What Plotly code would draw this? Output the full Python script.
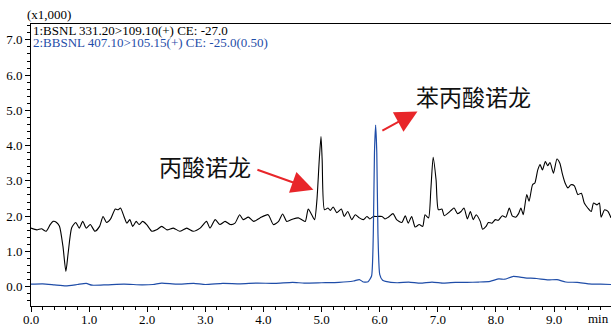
import plotly.graph_objects as go

# ---- data ----
black_t = [0.00, 0.10, 0.18, 0.26, 0.33, 0.38, 0.44, 0.49, 0.55, 0.60, 0.64, 0.70, 0.77, 0.83, 0.89, 0.95,
           1.02, 1.10, 1.18, 1.24, 1.30, 1.37, 1.45, 1.50, 1.54, 1.60, 1.65, 1.70, 1.75, 1.81, 1.86, 1.92, 1.99,
           2.08, 2.16, 2.25, 2.34, 2.45, 2.56, 2.68, 2.79, 2.91, 3.02, 3.08, 3.17, 3.25, 3.34, 3.43, 3.51,
           3.59, 3.65, 3.74, 3.83, 3.94, 4.08, 4.17, 4.26, 4.33, 4.40, 4.51, 4.60, 4.66, 4.72, 4.77, 4.83,
           4.88, 4.92, 4.96, 4.99, 5.01, 5.05, 5.11, 5.15, 5.20, 5.26, 5.34, 5.39, 5.45, 5.52, 5.58, 5.65,
           5.72, 5.78, 5.83, 5.89, 5.95, 6.04, 6.09, 6.15, 6.23, 6.29, 6.38, 6.44, 6.49, 6.55, 6.61, 6.68,
           6.74, 6.78, 6.84, 6.88, 6.92, 6.97, 7.01, 7.07, 7.11, 7.18, 7.24, 7.28, 7.34, 7.40, 7.45, 7.51,
           7.56, 7.61, 7.66, 7.73, 7.77, 7.83, 7.87, 7.93, 7.99, 8.04, 8.11, 8.17, 8.23, 8.28, 8.34, 8.39,
           8.43, 8.47, 8.53, 8.57, 8.63, 8.67, 8.72, 8.76, 8.80, 8.85, 8.89, 8.93, 8.99, 9.05, 9.10, 9.14,
           9.19, 9.24, 9.29, 9.35, 9.41, 9.47, 9.52, 9.58, 9.64, 9.68, 9.74, 9.78, 9.81, 9.87, 9.93, 9.98]
black_v = [1.66, 1.61, 1.64, 1.57, 1.76, 1.85, 1.82, 1.71, 1.14, 0.43, 0.96, 1.67, 1.82, 1.66, 1.85, 1.66,
           1.76, 1.57, 1.71, 1.99, 1.82, 1.92, 2.20, 2.18, 2.23, 1.99, 1.80, 1.90, 1.71, 1.85, 1.76, 1.85, 1.76,
           1.57, 1.61, 1.71, 1.61, 1.66, 1.57, 1.66, 1.57, 1.66, 1.85, 1.66, 1.90, 1.76, 1.85, 1.76, 1.80,
           2.04, 1.90, 1.97, 1.85, 1.95, 2.04, 1.76, 1.85, 2.06, 1.85, 1.92, 1.95, 1.90, 1.85, 2.20, 2.04,
           1.90, 2.46, 3.60, 4.26, 3.60, 2.18, 2.23, 2.16, 2.26, 2.10, 2.20, 1.99, 2.13, 1.90, 2.04, 1.95,
           1.90, 1.99, 1.92, 1.99, 1.99, 1.99, 1.92, 1.97, 2.07, 1.90, 1.82, 2.01, 1.80, 1.99, 1.69, 1.76,
           1.71, 2.04, 1.95, 2.75, 3.67, 3.03, 2.18, 2.20, 2.01, 2.09, 2.18, 2.23, 2.07, 2.13, 2.23, 1.92,
           2.13, 1.90, 2.04, 1.85, 1.63, 1.71, 1.82, 1.80, 1.90, 1.88, 2.01, 1.97, 2.23, 2.01, 1.97, 2.07,
           2.23, 2.04, 2.61, 2.42, 2.89, 2.94, 3.31, 3.46, 3.31, 3.55, 3.43, 3.52, 3.22, 3.62, 3.50, 3.22,
           2.94, 2.80, 2.89, 2.86, 2.61, 2.65, 2.37, 2.23, 2.13, 2.37, 2.32, 2.37, 1.97, 2.18, 2.13, 1.95]

blue_t = [0.00, 0.20, 0.40, 0.60, 0.80, 0.95, 1.05, 1.30, 1.60, 1.90, 2.10, 2.25, 2.50, 2.80, 3.00, 3.30,
          3.60, 3.90, 4.20, 4.50, 4.70, 5.00, 5.30, 5.55, 5.65, 5.72, 5.80, 5.86, 5.89, 5.91, 5.93, 5.95,
          5.97, 6.00, 6.05, 6.10, 6.30, 6.50, 6.70, 6.90, 7.10, 7.30, 7.50, 7.70, 7.90, 8.05, 8.15, 8.30,
          8.50, 8.70, 8.90, 9.05, 9.20, 9.40, 9.60, 9.80, 9.98]
blue_v = [0.07, 0.08, 0.05, 0.02, 0.06, 0.09, 0.04, 0.05, 0.07, 0.05, 0.06, 0.10, 0.07, 0.09, 0.06, 0.09,
          0.08, 0.10, 0.09, 0.12, 0.10, 0.11, 0.12, 0.16, 0.20, 0.13, 0.14, 0.30, 1.50, 3.80, 4.58, 3.80,
          1.50, 0.35, 0.18, 0.15, 0.11, 0.13, 0.10, 0.13, 0.10, 0.12, 0.12, 0.13, 0.15, 0.22, 0.21, 0.29,
          0.25, 0.23, 0.19, 0.20, 0.13, 0.12, 0.08, 0.07, 0.06]

x_ticks = [0, 1, 2, 3, 4, 5, 6, 7, 8, 9]
x_tick_labels = ["0.0", "1.0", "2.0", "3.0", "4.0", "5.0", "6.0", "7.0", "8.0", "9.0"]
y_ticks = [0, 1, 2, 3, 4, 5, 6, 7]
y_tick_labels = ["0.0", "1.0", "2.0", "3.0", "4.0", "5.0", "6.0", "7.0"]

label_1 = "丙酸诺龙"
label_2 = "苯丙酸诺龙"
trace1_name = "1:BSNL 331.20>109.10(+) CE: -27.0"
trace2_name = "2:BBSNL 407.10>105.15(+) CE: -25.0(0.50)"

BLUE = "#1f4da8"
RED = "#e8262a"
SERIF = "Liberation Serif, Times New Roman, serif"
CJK = "Noto Sans CJK SC, sans-serif"

fig = go.Figure()
fig.add_trace(go.Scatter(x=black_t, y=black_v, mode="lines", name=trace1_name,
                         line=dict(color="#000000", width=1.1, shape="spline", smoothing=0.6)))
fig.add_trace(go.Scatter(x=blue_t, y=blue_v, mode="lines", name=trace2_name,
                         line=dict(color=BLUE, width=1.2, shape="spline", smoothing=0.5)))

axis_common = dict(showgrid=False, zeroline=False, showline=True, linecolor="#000000", linewidth=1,
                   ticks="outside", ticklen=5, tickwidth=1, tickcolor="#000000", automargin=False,
                   tickfont=dict(family=SERIF, size=13, color="#000000"))

fig.update_xaxes(range=[0, 9.98], tickvals=x_ticks, ticktext=x_tick_labels, mirror=True,
                 ticklabelstandoff=-4,
                 minor=dict(dtick=0.2, ticks="outside", ticklen=3, tickcolor="#000000"),
                 **axis_common)
fig.update_yaxes(range=[-0.55, 7.45], tickvals=y_ticks, ticktext=y_tick_labels,
                 minor=dict(dtick=0.2, ticks="outside", ticklen=3, tickcolor="#000000"),
                 **axis_common)

annotations = [
    dict(xref="paper", yref="paper", x=-0.011, y=1.0, xanchor="left", yanchor="bottom",
         text="(x1,000)", showarrow=False, font=dict(family=SERIF, size=13, color="#000000")),
    dict(xref="paper", yref="paper", x=0.0, y=0.978, xanchor="left", yanchor="middle",
         text=trace1_name, showarrow=False, font=dict(family=SERIF, size=13, color="#000000")),
    dict(xref="paper", yref="paper", x=0.0, y=0.933, xanchor="left", yanchor="middle",
         text=trace2_name, showarrow=False, font=dict(family=SERIF, size=13, color=BLUE)),
    dict(xref="paper", yref="paper", x=1.0, y=0.0, xanchor="right", yanchor="top", yshift=-3,
         text="min", showarrow=False, font=dict(family=SERIF, size=13, color="#000000")),
    dict(xref="x", yref="y", x=2.99, y=3.43, text=label_1, showarrow=False,
         font=dict(family=CJK, size=23, color="#111111")),
    dict(xref="x", yref="y", x=7.62, y=5.40, text=label_2, showarrow=False,
         font=dict(family=CJK, size=23, color="#111111")),
    dict(xref="x", yref="y", x=4.86, y=2.75, axref="x", ayref="y", ax=3.87, ay=3.33,
         text="", showarrow=True, arrowhead=2, arrowsize=2.2, arrowwidth=2, arrowcolor=RED),
    dict(xref="x", yref="y", x=6.65, y=4.97, axref="x", ayref="y", ax=6.02, ay=4.40,
         text="", showarrow=True, arrowhead=2, arrowsize=2.2, arrowwidth=2, arrowcolor=RED),
]

fig.update_layout(width=611, height=325, margin=dict(l=31, r=0, t=24, b=19, autoexpand=False),
                  paper_bgcolor="#ffffff", plot_bgcolor="#ffffff", showlegend=False,
                  annotations=annotations)

fig.write_html("out.html", config={"displayModeBar": False},
               post_script="document.body.style.margin='0';document.body.style.overflow='hidden';")
